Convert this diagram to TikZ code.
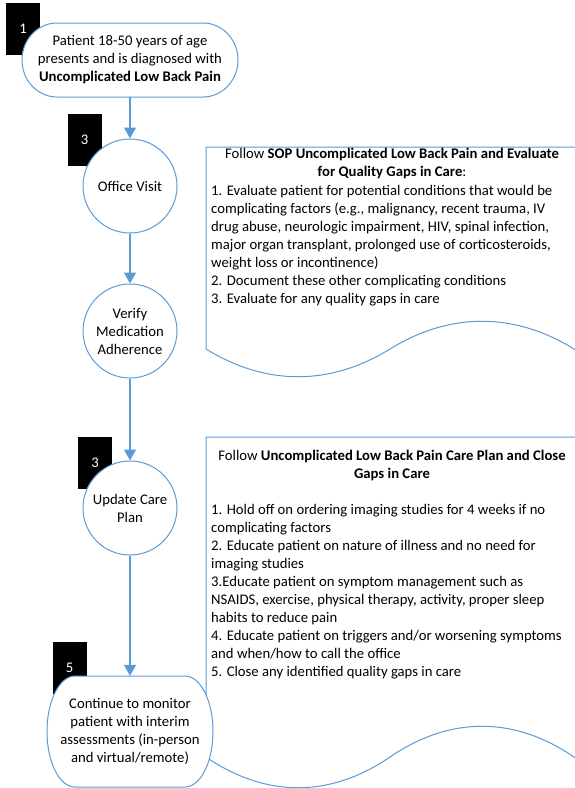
\documentclass[tikz,border=0pt]{standalone}
\usepackage{fontspec}
\setmainfont{Carlito}
\usetikzlibrary{arrows.meta}
\definecolor{flowblue}{HTML}{5B9BD5}
\begin{document}
\begin{tikzpicture}[x=1pt,y=1pt,
  font=\fontsize{14.7pt}{18pt}\selectfont,
  outline/.style={draw=flowblue, line width=1pt},
  shapefill/.style={outline, fill=white},
  numbox/.style={fill=black, text=white, minimum width=34pt, minimum height=52pt, inner sep=0pt},
  stepcircle/.style={circle, shapefill, minimum size=94pt, inner sep=0pt, align=center},
  termtext/.style={inner sep=0pt, align=center},
  flowarrow/.style={draw=flowblue, line width=1.3pt, -{Triangle[length=11pt,width=12pt]}},
  % the base anchor of a multi-line node sits on its last line
  doctitle/.style={anchor=base, align=center, inner sep=0pt},
  doclist/.style={anchor=base west, align=left, inner sep=0pt}
]
\useasboundingbox (0,0) rectangle (575,-788);

% step 1: terminator
\node[numbox] (n1) at (23,-29) {1};
\draw[shapefill] (57,-23) -- (203,-23)
  arc[start angle=90, end angle=-90, x radius=35pt, y radius=37pt]
  -- (57,-97)
  arc[start angle=270, end angle=90, x radius=35pt, y radius=37pt] -- cycle;
\node[termtext, minimum width=216pt, minimum height=74pt] (start) at (130,-60)
  {Patient 18-50 years of age\\presents and is diagnosed with\\\textbf{Uncomplicated Low Back Pain}};

% office visit
\node[numbox] (n2) at (84.5,-140) {3};
\node[stepcircle] (visit) at (130,-186) {Office Visit};

% medication adherence
\node[stepcircle] (verify) at (130,-331) {Verify\\Medication\\Adherence};

% first document
\draw[shapefill] (206,-147) -- (206,-349)
  .. controls (266,-386) and (330,-386) .. (390,-349)
  .. controls (450,-312) and (514,-312) .. (574,-349)
  -- (585,-356) -- (585,-147) -- cycle;
\node[doctitle] (sopTitle) at (392,-176.5)
  {Follow \textbf{SOP Uncomplicated Low Back Pain and Evaluate}\\\textbf{for Quality Gaps in Care}:};
\node[doclist] (sopList) at (211,-303.5)
  {1. Evaluate patient for potential conditions that would be\\
   complicating factors (e.g., malignancy, recent trauma, IV\\
   drug abuse, neurologic impairment, HIV, spinal infection,\\
   major organ transplant, prolonged use of corticosteroids,\\
   weight loss or incontinence)\\
   2. Document these other complicating conditions\\
   3. Evaluate for any quality gaps in care};

% update care plan
\node[numbox] (n3) at (95,-462.5) {3};
\node[stepcircle] (update) at (130,-508) {Update Care\\Plan};

% second document
\draw[shapefill] (206,-437) -- (206,-757)
  .. controls (266,-798) and (330,-798) .. (390,-757)
  .. controls (450,-716) and (514,-716) .. (574,-757)
  -- (585,-764) -- (585,-437) -- cycle;
\node[doctitle] (planTitle) at (392,-478.5)
  {Follow \textbf{Uncomplicated Low Back Pain Care Plan and Close}\\\textbf{Gaps in Care}};
\node[doclist] (planList) at (211,-676.5)
  {1. Hold off on ordering imaging studies for 4 weeks if no\\
   complicating factors\\
   2. Educate patient on nature of illness and no need for\\
   imaging studies\\
   3.Educate patient on symptom management such as\\
   NSAIDS, exercise, physical therapy, activity, proper sleep\\
   habits to reduce pain\\
   4. Educate patient on triggers and/or worsening symptoms\\
   and when/how to call the office\\
   5. Close any identified quality gaps in care};

% step 5: terminator
\node[numbox] (n5) at (69.5,-667.7) {5};
\draw[shapefill] (75,-676) -- (185,-676)
  arc[start angle=90, end angle=-90, x radius=28pt, y radius=55.5pt]
  -- (75,-787)
  arc[start angle=270, end angle=90, x radius=28pt, y radius=55.5pt] -- cycle;
\node[termtext, minimum width=166pt, minimum height=111pt] (monitor) at (130,-731.5)
  {Continue to monitor\\patient with interim\\assessments (in-person\\and virtual/remote)};

% connectors
\draw[flowarrow] (start.south) -- (visit.north);
\draw[flowarrow] (visit.south) -- (verify.north);
\draw[flowarrow] (verify.south) -- (update.north);
\draw[flowarrow] (update.south) -- (monitor.north);
\end{tikzpicture}
\end{document}
